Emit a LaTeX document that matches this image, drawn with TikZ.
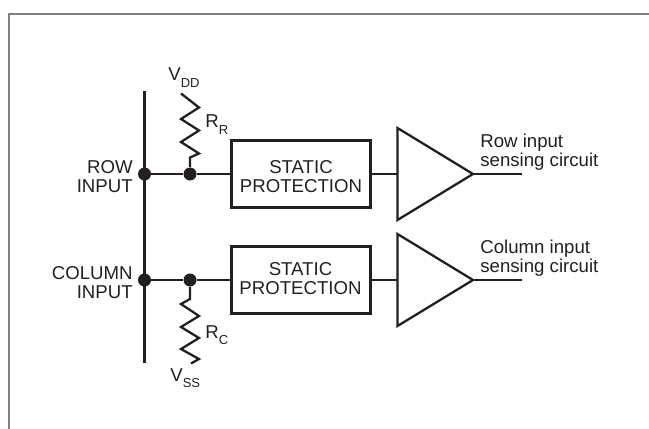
\documentclass[tikz,border=0pt]{standalone}
\usepackage{fontspec}
\setmainfont{Liberation Sans}
\definecolor{kink}{HTML}{231F20}
\definecolor{kframe}{HTML}{808080}
\newcommand{\ksub}[2]{#1\raisebox{-0.65ex}{\fontsize{7.4}{8}\selectfont #2}}
\tikzset{
  wire/.style={draw=kink,line width=1.3pt},
  protbox/.style={draw=kink,line width=1.3pt,minimum width=79pt,minimum height=38pt,inner sep=0pt},
  junc/.style={circle,fill=kink,minimum size=7.4pt,inner sep=0pt},
  lbl/.style={text=kink,inner sep=0pt,font=\fontsize{10.6}{10.6}\selectfont}
}
\begin{document}
\begin{tikzpicture}[x=0.02cm,y=-0.02cm]
\pgfmathsetmacro{\kzw}{18}
\useasboundingbox(0,0)rectangle(649,429);
\draw[kframe,line width=0.7pt](649,14)--(9,14)--(9,429);
\coordinate(bustop)at(144.5,91);
\coordinate(busbot)at(144.5,363);
\draw[wire](bustop)--(busbot);
\node[junc](jra)at(144.5,174){};
\node[junc](jrb)at(190,174){};
\node[junc](jca)at(144.5,280){};
\node[junc](jcb)at(190,280){};
\node[protbox](protr)at(301,174){};
\node[protbox](protc)at(301,280){};
\node[lbl,anchor=base,align=center](txtr)at(301,192){STATIC\\PROTECTION};
\node[lbl,anchor=base,align=center](txtc)at(300.5,294){STATIC\\PROTECTION};
\coordinate(ampra)at(397.5,128);
\coordinate(amprb)at(397.5,220);
\coordinate(amprc)at(473,174);
\coordinate(ampri)at(397.5,174);
\coordinate(ampca)at(397.5,234);
\coordinate(ampcb)at(397.5,326);
\coordinate(ampcc)at(473,280);
\coordinate(ampci)at(397.5,280);
\coordinate(outr)at(522,174);
\coordinate(outc)at(522,280);
\draw[wire,line join=miter](ampra)--(amprc)--(amprb)--cycle;
\draw[wire,line join=miter](ampca)--(ampcc)--(ampcb)--cycle;
\draw[wire](jra)--(jrb)--(protr.west);
\draw[wire](jca)--(jcb)--(protc.west);
\draw[wire](protr.east)--(ampri);
\draw[wire](protc.east)--(ampci);
\draw[wire](amprc)--(outr);
\draw[wire](ampcc)--(outc);
\draw[wire,line join=miter](jrb)--++(0,-16.5)--++(9,-4)--++(-\kzw,-11.5)--++(\kzw,-11.5)--++(-\kzw,-11.5)--++(\kzw,-11.5)--++(-\kzw,-14);
\draw[wire,line join=miter](jcb)--++(0,19)--++(-9,5)--++(\kzw,12)--++(-\kzw,11)--++(\kzw,11)--++(-\kzw,11)--++(\kzw,10)--++(-8,4.5);
\node[lbl,anchor=base east,align=right](lblrow)at(133,192){ROW\\INPUT};
\node[lbl,anchor=base east,align=right](lblcol)at(133,298){COLUMN\\INPUT};
\node[lbl,anchor=base west,align=left](lblsr)at(480,166){Row input\\sensing circuit};
\node[lbl,anchor=base west,align=left](lblsc)at(480,272){Column input\\sensing circuit};
\node[lbl,anchor=base west](lblvdd)at(168,81){\ksub{V}{DD}};
\node[lbl,anchor=base west](lblrr)at(205,128){\ksub{R}{R}};
\node[lbl,anchor=base west](lblrc)at(205,338){\ksub{R}{C}};
\node[lbl,anchor=base west](lblvss)at(170,381){\ksub{V}{SS}};
\end{tikzpicture}
\end{document}
